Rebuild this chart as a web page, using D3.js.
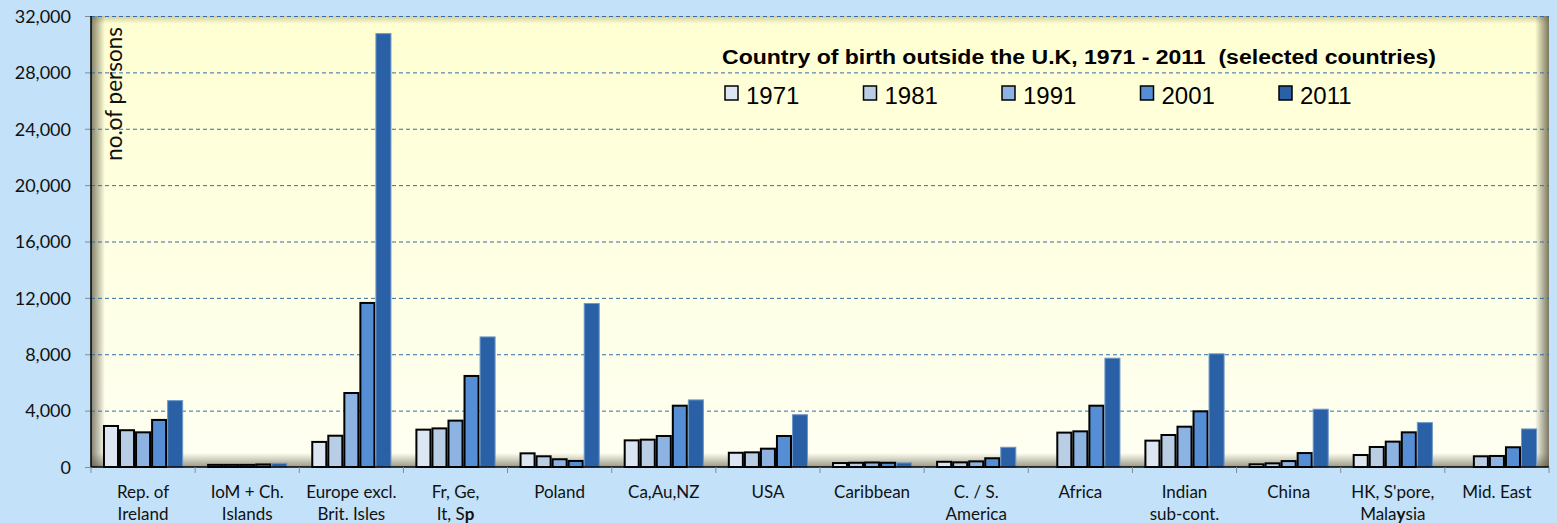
<!DOCTYPE html>
<html>
<head>
<meta charset="utf-8">
<script src="https://cdn.jsdelivr.net/npm/d3@7"></script>
<style>
  html, body { margin: 0; padding: 0; background: #C3E1F9; }
  svg { display: block; }
  .tick-label { font-family: Lato, "Open Sans", sans-serif; fill: #111; }
</style>
</head>
<body>
<div id="chart"></div>
<script>
// Data (persons)
const categories = [
  ["Rep. of", "Ireland"], ["IoM + Ch.", "Islands"], ["Europe excl.", "Brit. Isles"], ["Fr, Ge,", "It, Sp"],
  ["Poland"], ["Ca,Au,NZ"], ["USA"], ["Caribbean"], ["C. / S.", "America"], ["Africa"],
  ["Indian", "sub-cont."], ["China"], ["HK, S'pore,", "Malaysia"], ["Mid. East"]
];
const years = ["1971", "1981", "1991", "2001", "2011"];
const v1971 = [2910, 150, 1780, 2650, 970, 1890, 1010, 280, 370, null, 1870, 190, 850, null];
const v1981 = [2610, 150, 2220, 2740, 760, 1940, 1040, 300, 330, 2440, 2270, 260, 1420, 760];
const v1991 = [2460, 150, 5250, 3290, 550, 2200, 1300, 320, 400, 2530, 2860, 420, 1800, 780];
const v2001 = [3340, 180, 11640, 6460, 430, 4350, 2200, 300, 620, 4350, 3950, 990, 2460, 1400];
const v2011 = [4710, 260, 30750, 9230, 11600, 4760, 3710, 290, 1400, 7720, 8030, 4100, 3150, 2700];
const yTicks = [0, 4000, 8000, 12000, 16000, 20000, 24000, 28000, 32000];
const colors = ["#DCE6F2", "#B9CDE5", "#8DB3E2", "#558ED5", "#2A61A6"];

const series = [v1971, v1981, v1991, v2001, v2011];
const W = 1557, H = 523;
const m = { left: 91, top: 16, right: 8, bottom: 56 };
const iw = W - m.left - m.right, ih = H - m.top - m.bottom;

const svg = d3.select("#chart").append("svg").attr("width", W).attr("height", H);
const defs = svg.append("defs");

const bg = defs.append("linearGradient").attr("id", "plotBg").attr("x1", 0).attr("y1", 0).attr("x2", 0).attr("y2", 1);
bg.append("stop").attr("offset", "0%").attr("stop-color", "#FFFFD2");
bg.append("stop").attr("offset", "100%").attr("stop-color", "#FEFFF2");

function shadow(id, x1, y1, x2, y2, op) {
  const g = defs.append("linearGradient").attr("id", id).attr("x1", x1).attr("y1", y1).attr("x2", x2).attr("y2", y2);
  g.append("stop").attr("offset", "0%").attr("stop-color", "#5a5540").attr("stop-opacity", op);
  g.append("stop").attr("offset", "100%").attr("stop-color", "#5a5540").attr("stop-opacity", 0);
}
shadow("shL", 0, 0, 1, 0, 0.75);
shadow("shR", 1, 0, 0, 0, 0.8);
shadow("shB", 0, 1, 0, 0, 0.6);
shadow("shT", 0, 0, 0, 1, 0.3);

const x0 = d3.scaleBand().domain(d3.range(categories.length)).range([0, iw]).paddingInner(0.23).paddingOuter(0.115);
const x1 = d3.scaleBand().domain(years).range([0, x0.bandwidth()]);
const y = d3.scaleLinear().domain([0, 32000]).range([ih, 0]);

const g = svg.append("g").attr("transform", `translate(${m.left},${m.top})`);

// plot area with inner shadow
g.append("rect").attr("width", iw).attr("height", ih).attr("fill", "url(#plotBg)");
g.append("rect").attr("width", 14).attr("height", ih).attr("fill", "url(#shL)");
g.append("rect").attr("x", iw - 14).attr("width", 14).attr("height", ih).attr("fill", "url(#shR)");
g.append("rect").attr("y", ih - 14).attr("width", iw).attr("height", 14).attr("fill", "url(#shB)");
g.append("rect").attr("width", iw).attr("height", 8).attr("fill", "url(#shT)");

// gridlines
g.append("g").selectAll("line").data(yTicks.filter(d => d > 0)).join("line")
  .attr("x1", 0).attr("x2", iw).attr("y1", d => y(d) + 0.5).attr("y2", d => y(d) + 0.5)
  .attr("stroke", "#2F6EA6").attr("stroke-width", 1).attr("stroke-dasharray", "4,3");

// bars
const groups = g.append("g").selectAll("g").data(categories).join("g")
  .attr("transform", (d, i) => `translate(${x0(i)},0)`);
groups.selectAll("rect")
  .data((d, i) => years.map((yr, k) => ({ yr, k, v: series[k][i] })).filter(d => d.v != null))
  .join("rect")
  .attr("x", d => x1(d.yr) + (d.k < 4 ? 1 : 0.5))
  .attr("y", d => y(d.v))
  .attr("width", d => x1.bandwidth() - (d.k < 4 ? 2 : 1))
  .attr("height", d => ih - y(d.v))
  .attr("fill", d => colors[d.k])
  .attr("stroke", d => d.k < 4 ? "#000" : "#6F97C8")
  .attr("stroke-width", d => d.k < 4 ? 2 : 1);

// y axis
const yAxis = g.append("g").call(d3.axisLeft(y).tickValues(yTicks).tickFormat(d3.format(",")).tickSize(6).tickPadding(14));
yAxis.select(".domain").remove();
yAxis.selectAll(".tick line").attr("stroke", "#7f8c99");
yAxis.selectAll("text").attr("class", "tick-label").style("font-size", "18px").attr("dy", "0.35em");
g.append("line").attr("x1", 0).attr("x2", 0).attr("y1", 0).attr("y2", ih).attr("stroke", "#000").attr("stroke-width", 1.5);

// x axis
g.append("line").attr("x1", 0).attr("x2", iw).attr("y1", ih).attr("y2", ih).attr("stroke", "#000").attr("stroke-width", 1.5);
g.append("g").selectAll("line").data(d3.range(categories.length + 1)).join("line")
  .attr("x1", i => i * x0.step()).attr("x2", i => i * x0.step())
  .attr("y1", ih).attr("y2", ih + 6).attr("stroke", "#7f8c99");

const xl = g.append("g").selectAll("text").data(categories).join("text")
  .attr("class", "tick-label").style("font-size", "17px").attr("text-anchor", "middle")
  .attr("transform", (d, i) => `translate(${x0(i) + x0.bandwidth() / 2},${ih + 31})`);
xl.each(function(lines) {
  const t = d3.select(this);
  lines.forEach((ln, j) => {
    const ts = t.append("tspan").attr("x", 0).attr("dy", j === 0 ? 0 : 22);
    // the reference shows one bold glyph in two labels
    const bold = ln === "It, Sp" ? 5 : ln === "Malaysia" ? 4 : -1;
    if (bold < 0) { ts.text(ln); return; }
    ts.text(ln.slice(0, bold));
    t.append("tspan").attr("font-weight", "bold").text(ln[bold]);
    t.append("tspan").text(ln.slice(bold + 1));
  });
});

// y axis title
g.append("text").attr("class", "tick-label").style("font-size", "22.5px")
  .attr("text-anchor", "end").attr("transform", "translate(31,11) rotate(-90)")
  .text("no.of persons");

// title and legend
svg.append("text").attr("x", 722).attr("y", 64)
  .style("font-family", "'Liberation Sans', Arial, sans-serif").style("font-weight", "bold").style("font-size", "20px")
  .style("white-space", "pre").attr("textLength", 714).attr("lengthAdjust", "spacingAndGlyphs")
  .text("Country of birth outside the U.K, 1971 - 2011  (selected countries)");

const leg = svg.append("g").selectAll("g").data(years).join("g")
  .attr("transform", (d, i) => `translate(${725 + i * 138.5},86)`);
leg.append("rect").attr("width", 13).attr("height", 14).attr("fill", (d, i) => colors[i])
  .attr("stroke", "#000").attr("stroke-width", 1.5);
leg.append("text").attr("x", 21).attr("y", 18)
  .style("font-family", "'Liberation Sans', Arial, sans-serif").style("font-size", "24px").text(d => d);
</script>
</body>
</html>
